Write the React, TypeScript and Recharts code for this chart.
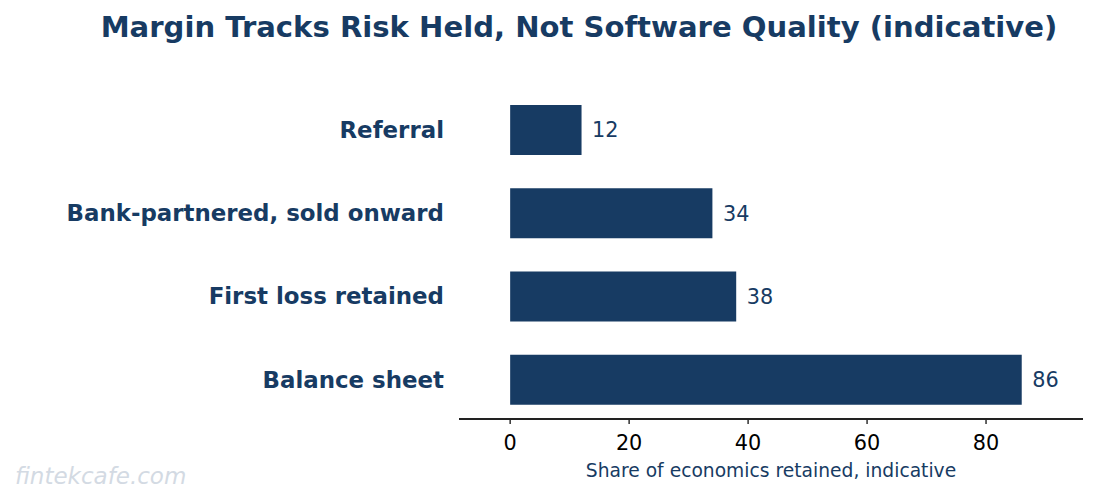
import React from 'react';
import { BarChart, Bar, XAxis, YAxis, LabelList } from 'recharts';

const categories = ['Referral', 'Bank-partnered, sold onward', 'First loss retained', 'Balance sheet'];
const values = [12, 34, 38, 86];
const xTicks = [0, 20, 40, 60, 80];

const TITLE = 'Margin Tracks Risk Held, Not Software Quality (indicative)';
const X_LABEL = 'Share of economics retained, indicative';
const WATERMARK = 'fintekcafe.com';

const NAVY = '#173b63';
const FONT = "'DejaVu Sans', sans-serif";

const data = categories.map((name, i) => ({ name, value: values[i] }));

const YTick = (props: any) => {
  const { x, y, payload } = props;
  return (
    <text x={x} y={y} dy="0.36em" textAnchor="end" fontWeight="bold" fontSize={22.9} fill={NAVY} fontFamily={FONT}>
      {payload.value}
    </text>
  );
};

export default function App() {
  return (
    <div style={{ position: 'absolute', left: 0, top: 0, width: 1098, height: 504, background: '#fff', fontFamily: FONT }}>
      <BarChart
        width={1098}
        height={504}
        data={data}
        layout="vertical"
        margin={{ top: 88, right: 15, bottom: 0, left: 0 }}
        style={{ fontFamily: FONT }}
      >
        <XAxis
          type="number"
          domain={[-8.6, 96.3]}
          ticks={xTicks}
          allowDataOverflow
          height={85}
          axisLine={{ stroke: '#222', strokeWidth: 1.8 }}
          tickLine={{ stroke: '#222', strokeWidth: 1.4 }}
          tickSize={5}
          tickMargin={11}
          tick={{ fill: '#000', fontSize: 20.8, fontFamily: FONT }}
          label={{ value: X_LABEL, position: 'insideBottom', offset: 27.5, fill: NAVY, fontSize: 18.7, fontFamily: FONT }}
        />
        <YAxis
          type="category"
          dataKey="name"
          width={459}
          axisLine={false}
          tickLine={false}
          tickSize={0}
          tickMargin={15}
          tick={<YTick />}
          interval={0}
          padding={{ top: 0, bottom: -2 }}
        />
        <Bar dataKey="value" fill={NAVY} barSize={50} isAnimationActive={false}>
          <LabelList dataKey="value" position="right" offset={10.5} fill={NAVY} fontSize={20.8} fontFamily={FONT} />
        </Bar>
      </BarChart>
      <svg width={1098} height={504} style={{ position: 'absolute', left: 0, top: 0, pointerEvents: 'none' }}>
        <text x={579} y={37} textAnchor="middle" fontWeight="bold" fontSize={29.1} fill={NAVY} fontFamily={FONT}>
          {TITLE}
        </text>
        <text x={15} y={484} fontStyle="italic" fontSize={23} fill="#d3dae3" fontFamily={FONT}>
          {WATERMARK}
        </text>
      </svg>
    </div>
  );
}
